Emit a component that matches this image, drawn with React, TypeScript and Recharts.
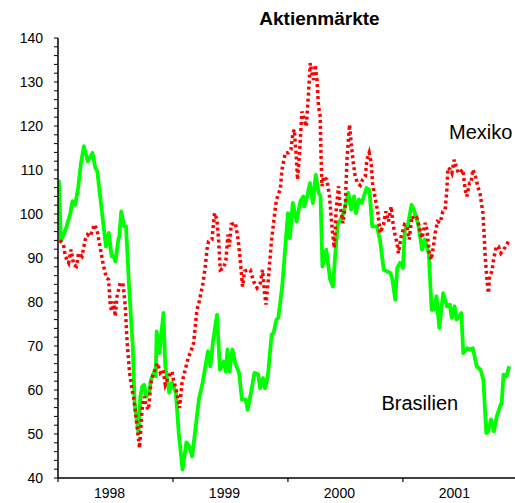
import React from 'react';
import { Line, LineChart, XAxis, YAxis } from 'recharts';

// time axis: months since Jan 1998
const YEAR_LABELS = ['1998', '1999', '2000', '2001'];
const YEAR_BOUNDS = [0, 12, 24, 36];
const Y_TICKS = Array.from({ length: 51 }, (_, i) => 40 + i * 2);

const brasilienMonths = [
  0.0, 0.1, 0.3, 0.6, 0.9, 1.3, 1.5, 1.8, 2.1, 2.4, 2.7, 3.1, 3.6, 3.9, 4.1, 4.4, 4.8, 5.0, 5.3, 5.6,
  5.8, 6.0, 6.3, 6.4, 6.6, 6.9, 7.1, 7.4, 7.8, 8.0, 8.4, 8.6, 8.8, 9.0, 9.2, 9.5, 9.7, 10.0, 10.2, 10.3,
  10.6, 11.0, 11.2, 11.6, 11.9, 12.3, 12.6, 13.0, 13.4, 13.7, 14.0, 14.3, 14.7, 15.1, 15.65, 15.9, 16.2, 16.6, 16.9, 17.3,
  17.5, 17.7, 17.9, 18.2, 18.5, 18.9, 19.2, 19.6, 19.8, 20.2, 20.5, 20.9, 21.1, 21.4, 21.6, 21.9, 22.3, 22.5, 22.8, 23.0,
  23.2, 23.4, 23.7, 24.0, 24.2, 24.5, 24.9, 25.3, 25.6, 25.7, 26.0, 26.3, 26.6, 26.9, 27.2, 27.4, 27.6, 28.0, 28.4, 28.7,
  28.9, 29.2, 29.5, 29.8, 30.3, 30.6, 30.9, 31.1, 31.4, 31.7, 32.2, 32.5, 32.8, 33.3, 33.6, 34.0, 34.3, 34.7, 34.9, 35.2,
  35.4, 35.7, 36.0, 36.2, 36.5, 36.9, 37.2, 37.6, 38.0, 38.3, 38.7, 39.0, 39.2, 39.5, 39.8, 40.2, 40.6, 40.9, 41.1, 41.4,
  41.6, 42.1, 42.3, 42.7, 43.0, 43.3, 43.7, 44.1, 44.4, 44.7, 44.9, 45.2, 45.5, 45.8, 46.2, 46.3, 46.5, 46.8, 47.1,
];
const brasilienValues = [
  100, 107.4, 94, 95.3, 97.2, 100.2, 102.9, 102.1, 105.9, 111.6, 115.4, 112, 113.9, 110.5, 109.7, 104, 96.4, 92.6, 95.7, 90.4,
  90.4, 89.2, 94.2, 94.9, 100.6, 97.2, 97.2, 84.3, 70, 57, 50.3, 58.5, 60.8, 61.2, 58.5, 59.3, 62.3, 63.9, 63.1, 73.3,
  68.4, 77.5, 65.4, 59.4, 61.7, 59.4, 50.3, 41.9, 48.1, 47.2, 44.9, 50.3, 57.8, 61.7, 68.8, 65.4, 71.4, 77.1, 64.6, 66.5,
  64.2, 69.2, 64.2, 69.2, 66.1, 63.9, 57.8, 57.8, 55.5, 60.1, 63.9, 63.5, 60.4, 62.7, 60.4, 63.1, 72.6, 73.0, 76.0, 76.4,
  80, 83.5, 91.8, 100.2, 94.5, 102.5, 98.3, 102.9, 104, 101.7, 104, 107, 102.5, 108.9, 104.8, 104, 88.1, 91.9, 85.1, 83.5,
  89.6, 97.9, 98.7, 100.2, 104.8, 101, 104, 100.2, 103.3, 102.5, 105.9, 105.5, 97.2, 97.2, 94.2, 87.3, 87, 86.6, 85.1, 80.5,
  87.7, 88.9, 87.7, 96.4, 97.2, 102.1, 100.6, 97.6, 91.9, 94.2, 91.1, 78.2, 78.2, 81.3, 74.1, 82, 79, 79.4, 76.4, 79,
  76, 77.5, 68.4, 69.5, 69.2, 69.5, 65.4, 64.6, 62.3, 50.2, 50.6, 53.3, 50.6, 54, 56.7, 56.7, 63.5, 63.1, 65.4,
];

const mexikoMonths = [
  0.2, 0.58, 0.76, 1.11, 1.36, 1.63, 1.91, 2.15, 2.5, 2.85, 3.09, 3.37, 3.79, 4.07, 4.41, 4.76, 5.04, 5.28, 5.46, 5.63,
  5.8, 5.98, 6.16, 6.5, 6.78, 7.02, 7.2, 7.47, 7.72, 7.89, 8.17, 8.41, 8.51, 8.77, 9.01, 9.21, 9.45, 9.7, 9.98, 10.39,
  10.68, 10.96, 11.2, 11.54, 11.9, 12.06, 12.42, 12.69, 12.94, 13.28, 13.63, 13.88, 14.15, 14.33, 14.5, 14.67, 14.92, 15.13, 15.37, 15.55,
  15.72, 16.07, 16.34, 16.59, 16.76, 16.94, 17.28, 17.53, 17.74, 17.88, 18.08, 18.5, 18.78, 19.02, 19.26, 19.47, 19.83, 20.07, 20.41, 20.77,
  21.11, 21.35, 21.56, 21.71, 21.98, 22.26, 22.5, 22.75, 22.96, 23.2, 23.37, 23.72, 24.06, 24.31, 24.52, 24.66, 24.87, 25.0, 25.21, 25.46,
  25.7, 25.91, 26.15, 26.33, 26.5, 26.67, 26.85, 27.03, 27.19, 27.37, 27.44, 27.55, 27.72, 28.07, 28.34, 28.59, 28.83, 29.04, 29.28, 29.46,
  29.74, 29.98, 30.16, 30.43, 30.57, 30.78, 31.02, 31.26, 31.55, 31.79, 32.07, 32.24, 32.48, 32.69, 32.83, 33.11, 33.39, 33.63, 33.98, 34.23,
  34.5, 34.78, 34.92, 35.13, 35.38, 35.54, 35.82, 36.17, 36.42, 36.66, 36.94, 37.21, 37.46, 37.7, 37.98, 38.33, 38.51, 38.75, 38.95, 39.19,
  39.37, 39.61, 39.89, 40.17, 40.41, 40.59, 40.7, 40.94, 41.11, 41.35, 41.56, 41.8, 42.05, 42.26, 42.5, 42.68, 42.95, 43.1, 43.31, 43.58,
  43.82, 44.07, 44.35, 44.49, 44.59, 44.77, 44.93, 45.04, 45.29, 45.46, 45.74, 45.97, 46.23, 46.5, 46.78, 47.03,
];
const mexikoValues = [
  94, 93, 90.4, 88.9, 91.9, 88.5, 88.1, 91.1, 90.4, 94.2, 95.3, 94.9, 97.6, 96.4, 92.3, 88.1, 85.5, 85.1, 79, 77.9,
  80.1, 76.7, 81.3, 84.3, 84.3, 79, 71.4, 63.9, 60.1, 58.5, 53.3, 48.7, 46.8, 55.5, 58.5, 56.3, 55.5, 61.6, 63.9, 66.1,
  63.9, 64.6, 61.2, 63.1, 64.2, 62.3, 59.3, 55.9, 61.6, 64.6, 67.6, 68.8, 70.7, 74.5, 78.3, 79.4, 82, 84.3, 88, 91.9,
  93.8, 94.2, 100.2, 98.7, 94.2, 87.3, 87.7, 89.6, 95.3, 92.6, 97.6, 98, 94.5, 89.6, 83.5, 87, 87.3, 87.3, 84.7, 83.2,
  84.3, 87.3, 82, 79.4, 85.8, 93.4, 98, 102.5, 104.4, 105.5, 110, 113.9, 113.9, 114.6, 118.4, 119.2, 113.1, 107.8, 113.9, 123.3,
  121.4, 119.9, 127.5, 134.3, 132, 130.5, 133.9, 130.5, 124.5, 122.2, 114.6, 106.3, 108.5, 107.8, 104, 97.2, 92.3, 101, 106.3, 101.7,
  97.9, 101.7, 112.3, 120.3, 116.9, 112.3, 108.5, 107, 106.5, 107.8, 108.5, 112.3, 113.9, 111.6, 107, 103.6, 100.2, 95.7, 97.6, 100.6,
  98.3, 101.7, 98.7, 95.7, 93.4, 91.1, 94.9, 97.6, 97.2, 94.2, 99.5, 98.7, 99.1, 97.2, 94.5, 98, 96.4, 91.1, 89.6, 92.6,
  95.7, 98.3, 98, 100.6, 101, 105.5, 110.5, 110.1, 109.3, 112.3, 110.8, 109.3, 109.7, 110.1, 105.5, 104, 107, 107, 110.1, 108.5,
  106.3, 104.4, 100.2, 94.9, 90.4, 85.1, 82, 85.8, 87, 89.6, 92.6, 92.6, 91.1, 91.9, 92.8, 93.8,
];

const brasilien = brasilienMonths.map((m, i) => ({ m, v: brasilienValues[i] }));
const mexiko = mexikoMonths.map((m, i) => ({ m, v: mexikoValues[i] }));

const FONT = 'Arial, "Liberation Sans", sans-serif';
const TICK_SIZE = 4;
const X_TICK_MARGIN = 6;

function YearTick(props: any) {
  const { x, y, payload } = props;
  const v = payload.value as number;
  if (YEAR_BOUNDS.includes(v)) {
    return (
      <line
        x1={x}
        x2={x}
        y1={y - X_TICK_MARGIN - TICK_SIZE}
        y2={y - X_TICK_MARGIN}
        stroke="#000"
        strokeWidth={1.2}
      />
    );
  }
  const label = YEAR_LABELS[Math.floor(v / 12)];
  return (
    <text x={x} y={y} dx={-6} dy="0.71em" textAnchor="middle" fontSize={14} fontFamily={FONT} fill="#000">
      {label}
    </text>
  );
}

const xTicks = [0, 6, 12, 18, 24, 30, 36, 42];

export default function App() {
  return (
    <div style={{ position: 'absolute', left: 0, top: 0, width: 515, height: 503, background: '#fff' }}>
      <LineChart
        width={515}
        height={503}
        margin={{ top: 38, right: 0, bottom: 0, left: 0 }}
        accessibilityLayer={false}
      >
        <XAxis
          type="number"
          dataKey="m"
          domain={[0, 47.7]}
          ticks={xTicks}
          interval={0}
          allowDataOverflow
          height={25}
          tickLine={false}
          tickSize={TICK_SIZE}
          tickMargin={X_TICK_MARGIN}
          tick={<YearTick />}
          axisLine={{ stroke: '#000', strokeWidth: 1.5 }}
        />
        <YAxis
          type="number"
          domain={[40, 140]}
          ticks={Y_TICKS}
          interval={0}
          width={58}
          tickSize={TICK_SIZE}
          tickMargin={11}
          tickFormatter={(v: number) => (v % 10 === 0 ? String(v) : '')}
          tick={{ fontSize: 14, fontFamily: FONT, fill: '#000' }}
          tickLine={{ stroke: '#000', strokeWidth: 1 }}
          axisLine={{ stroke: '#000', strokeWidth: 1.5 }}
        />
        <Line
          data={brasilien}
          dataKey="v"
          type="linear"
          stroke="#00ff00"
          strokeWidth={3.8}
          strokeLinejoin="round"
          dot={false}
          activeDot={false}
          isAnimationActive={false}
        />
        <Line
          data={mexiko}
          dataKey="v"
          type="linear"
          stroke="#ff0000"
          strokeWidth={3.5}
          strokeDasharray="3 3"
          dot={false}
          activeDot={false}
          isAnimationActive={false}
        />
      </LineChart>
      <svg
        width={515}
        height={503}
        style={{ position: 'absolute', left: 0, top: 0, pointerEvents: 'none' }}
      >
        <text x={319.5} y={25} textAnchor="middle" fontSize={19} fontWeight="bold" fontFamily={FONT} fill="#000">
          Aktienmärkte
        </text>
        <text x={449} y={138.5} fontSize={20} fontFamily={FONT} fill="#000">
          Mexiko
        </text>
        <text x={381.5} y={409.5} fontSize={20} fontFamily={FONT} fill="#000">
          Brasilien
        </text>
      </svg>
    </div>
  );
}
